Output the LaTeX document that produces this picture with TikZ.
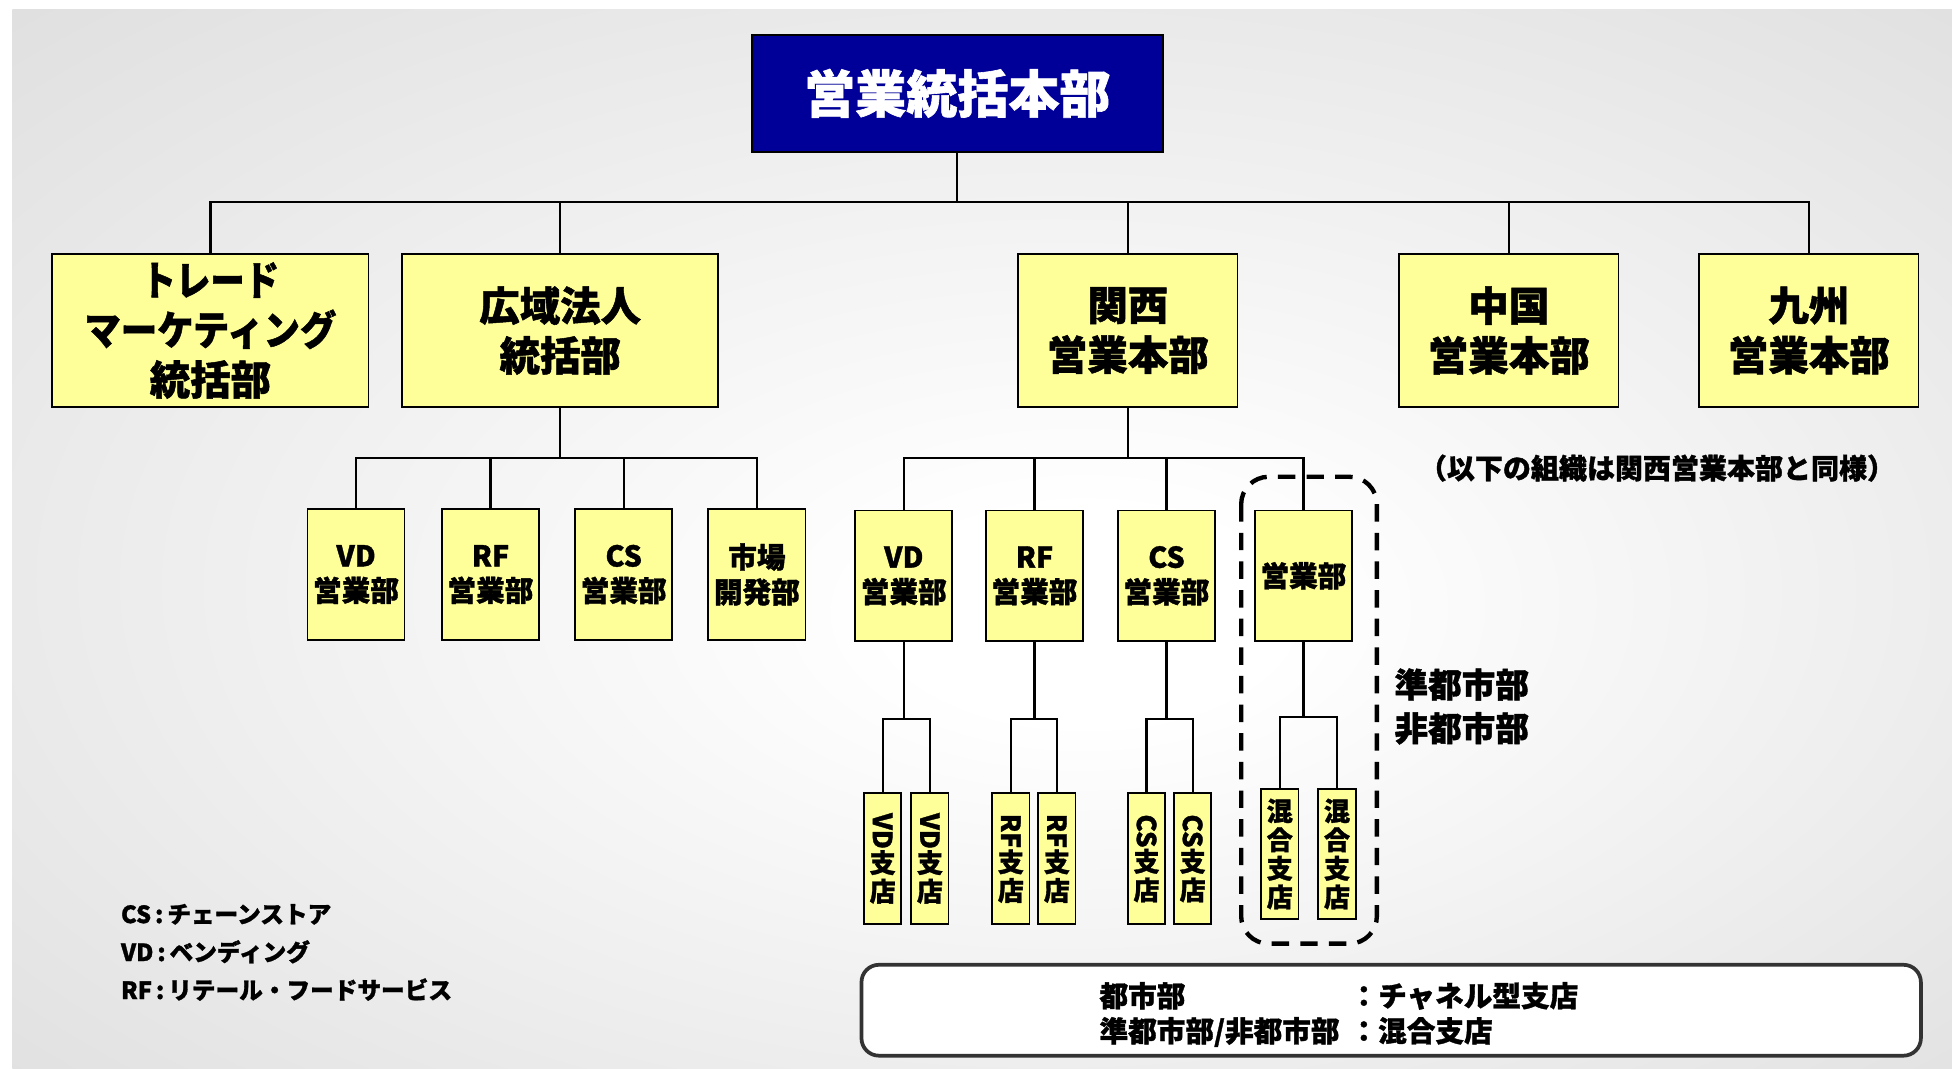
\documentclass[tikz,border=0pt]{standalone}
\usepackage{fontspec}
\usepackage{graphicx}
\setmainfont{Noto Sans CJK JP}[BoldFeatures={FakeBold=1.2}]
\usetikzlibrary{positioning}
\definecolor{hqblue}{RGB}{0,0,153}
\definecolor{deptyellow}{RGB}{255,255,153}
\pgfdeclareradialshading{bgglow}{\pgfpoint{3bp}{-4bp}}{color(0bp)=(white); color(5bp)=(white); color(40bp)=(gray!27); color(50bp)=(gray!27)}

\begin{document}
\begin{tikzpicture}[x=1pt,y=-1pt,
    hqbox/.style={draw=black,fill=hqblue,text=white,line width=1.4pt,minimum width=330pt,minimum height=94pt,inner sep=0pt,font=\fontsize{41}{48}\selectfont\bfseries},
    bigbox/.style={draw=black,fill=deptyellow,line width=1.4pt,minimum height=123pt,inner sep=0pt,align=center,font=\fontsize{32.5}{40}\selectfont\bfseries},
    midbox/.style={draw=black,fill=deptyellow,line width=1.4pt,minimum width=78pt,minimum height=105pt,inner sep=0pt,align=center,font=\fontsize{23}{28}\selectfont\bfseries},
    shopbox/.style={draw=black,fill=deptyellow,line width=1.4pt,minimum width=30pt,minimum height=105pt,inner sep=0pt,align=center,font=\fontsize{21}{23}\selectfont\bfseries},
    conn/.style={draw=black,line width=1.8pt},
    note/.style={inner sep=0pt,align=left,font=\bfseries}]
  % Background
  \useasboundingbox (0,0) rectangle (1568,858);
  \fill[white] (0,0) rectangle (1568,858);
  \shade[shading=bgglow] (10,8) rectangle (1568,858);

  % Head office
  \node[hqbox] (hq) at (769,75) {営業統括本部};

  % Divisions
  \node[bigbox,minimum width=254pt] (tm) at (169,265.5) {\scalebox{0.85}[1]{トレード}\\\scalebox{0.9}[1]{マーケティング}\\統括部};
  \node[bigbox,minimum width=254pt] (kouiki) at (450,265.5) {広域法人\\統括部};
  \node[bigbox,minimum width=176pt] (kansai) at (906,265.5) {関西\\営業本部};
  \node[bigbox,minimum width=176pt] (chugoku) at (1212,265.5) {中国\\営業本部};
  \node[bigbox,minimum width=176pt] (kyushu) at (1453,265.5) {九州\\営業本部};

  \coordinate (bar1) at (769,162);
  \draw[conn] (hq.south) -- (bar1);
  \foreach \n in {tm,kouiki,kansai,chugoku,kyushu}
    \draw[conn] (bar1) -| (\n.north);

  % Departments of kouiki
  \node[midbox] (kvd) at (286,461.5) {VD\\営業部};
  \node[midbox] (krf) at (394,461.5) {RF\\営業部};
  \node[midbox] (kcs) at (501,461.5) {CS\\営業部};
  \node[midbox] (kmk) at (608,461.5) {市場\\開発部};

  \coordinate (bar2) at (450,368);
  \draw[conn] (kouiki.south) -- (bar2);
  \foreach \n in {kvd,krf,kcs,kmk}
    \draw[conn] (bar2) -| (\n.north);

  % Departments of kansai
  \node[midbox] (svd) at (726,462.5) {VD\\営業部};
  \node[midbox] (srf) at (831,462.5) {RF\\営業部};
  \node[midbox] (scs) at (937,462.5) {CS\\営業部};
  \node[midbox] (seg) at (1047,462.5) {営業部};

  \coordinate (bar3) at (906,368);
  \draw[conn] (kansai.south) -- (bar3);
  \foreach \n in {svd,srf,scs,seg}
    \draw[conn] (bar3) -| (\n.north);

  % Branches
  \node[shopbox] (vd1) at (709,689.5) {\rotatebox{-90}{VD}\\支\\店};
  \node[shopbox] (vd2) at (747,689.5) {\rotatebox{-90}{VD}\\支\\店};
  \node[shopbox] (rf1) at (812,689.5) {\rotatebox{-90}{RF}\\支\\店};
  \node[shopbox] (rf2) at (849,689.5) {\rotatebox{-90}{RF}\\支\\店};
  \node[shopbox] (cs1) at (921,689.5) {\rotatebox{-90}{CS}\\支\\店};
  \node[shopbox] (cs2) at (958,689.5) {\rotatebox{-90}{CS}\\支\\店};
  \node[shopbox] (mx1) at (1028,686) {混\\合\\支\\店};
  \node[shopbox] (mx2) at (1074,686) {混\\合\\支\\店};

  \foreach \p/\a/\b/\d in {svd/vd1/vd2/62,srf/rf1/rf2/62,scs/cs1/cs2/62,seg/mx1/mx2/60} {
    \draw[conn] (\p.south) -- ++(0,\d) coordinate (j\p);
    \draw[conn] (j\p) -| (\a.north);
    \draw[conn] (j\p) -| (\b.north);
  }

  % Group of semi-urban / rural
  \draw[line width=3.5pt,dash pattern=on 14pt off 9pt,rounded corners=22pt] (997,383) rectangle (1106,758);
  \node[note,anchor=west,font=\fontsize{27}{35}\selectfont\bfseries] (jun) at (1120,567.5) {準都市部\\非都市部};

  \node[note,font=\fontsize{22.5}{26}\selectfont\bfseries] (same) at (1331,376) {（以下の組織は関西営業本部と同様）};

  % Legend
  \node[note,anchor=west,font=\fontsize{19}{30.5}\selectfont\bfseries] (abbr) at (97,765) {CS\,:\,チェーンストア\\VD\,:\,ベンディング\\RF\,:\,リテール・フードサービス};

  \node[draw=black!80,fill=white,line width=3pt,rounded corners=14pt,minimum width=851pt,minimum height=73pt] (leg) at (1117.5,811.5) {};
  \node[note,anchor=west,font=\fontsize{23}{28}\selectfont\bfseries] (legtext) at (883,817)
    {\begin{tabular}{@{}l@{\hspace{8pt}}l@{}}都市部 & ：チャネル型支店\\準都市部/非都市部 & ：混合支店\end{tabular}};
\end{tikzpicture}
\end{document}
